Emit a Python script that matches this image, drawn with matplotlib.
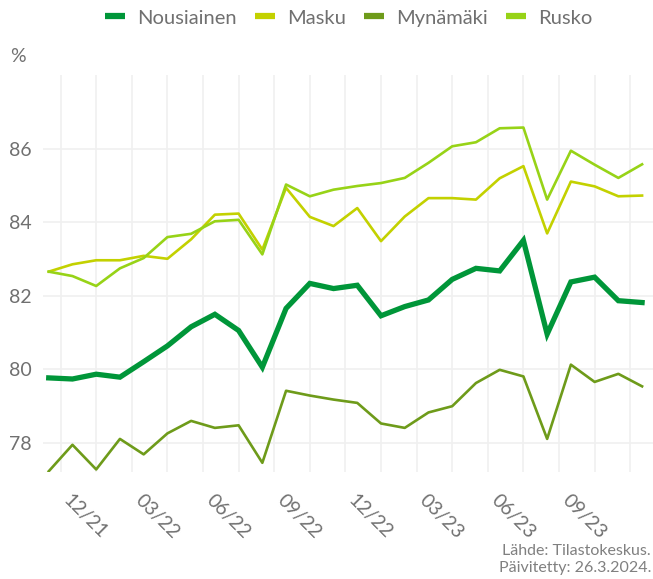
import numpy as np
import matplotlib
matplotlib.use("Agg")
import matplotlib.pyplot as plt

months = ["11/21", "12/21", "01/22", "02/22", "03/22", "04/22", "05/22", "06/22",
          "07/22", "08/22", "09/22", "10/22", "11/22", "12/22", "01/23", "02/23",
          "03/23", "04/23", "05/23", "06/23", "07/23", "08/23", "09/23", "10/23",
          "11/23", "12/23"]

nousiainen = [79.76, 79.73, 79.86, 79.78, 80.2, 80.63, 81.15, 81.49, 81.05, 80.05,
              81.65, 82.33, 82.19, 82.28, 81.45, 81.7, 81.88, 82.44, 82.74, 82.67,
              83.5, 80.95, 82.37, 82.5, 81.86, 81.81]
masku = [82.65, 82.85, 82.96, 82.96, 83.08, 83.0, 83.53, 84.2, 84.23, 83.25,
         84.93, 84.14, 83.89, 84.38, 83.48, 84.15, 84.65, 84.65, 84.61, 85.19,
         85.52, 83.69, 85.1, 84.97, 84.7, 84.72]
mynamaki = [77.22, 77.94, 77.27, 78.1, 77.68, 78.25, 78.59, 78.4, 78.47, 77.45,
            79.41, 79.28, 79.17, 79.08, 78.52, 78.4, 78.82, 78.99, 79.62, 79.98,
            79.8, 78.1, 80.12, 79.65, 79.87, 79.53]
rusko = [82.65, 82.53, 82.26, 82.74, 83.02, 83.59, 83.68, 84.02, 84.06, 83.12,
         85.02, 84.7, 84.88, 84.98, 85.06, 85.2, 85.61, 86.06, 86.17, 86.55,
         86.57, 84.61, 85.94, 85.56, 85.2, 85.57]

tick_labels = ["12/21", "03/22", "06/22", "09/22", "12/22", "03/23", "06/23", "09/23"]

plt.rcParams["font.family"] = ["Lato", "DejaVu Sans"]
grey = "#707070"

fig = plt.figure(figsize=(6.53, 5.79), dpi=100)
ax = fig.add_axes([0.0659, 0.1848, 0.9341, 0.6857])

x = np.arange(len(months))
ax.plot(x, masku, color="#c3d100", lw=1.9, label="Masku", zorder=3)
ax.plot(x, rusko, color="#97d317", lw=1.9, label="Rusko", zorder=3)
ax.plot(x, mynamaki, color="#6e9b1a", lw=1.9, label="Mynämäki", zorder=3)
ax.plot(x, nousiainen, color="#009639", lw=3.8, label="Nousiainen", zorder=4,
        solid_joinstyle="miter")

ax.set_xlim(-0.24, 25.46)
ax.set_ylim(77.2, 88)

# vertical grid lines fall between the monthly points
for gx in np.arange(0.5, 25, 1.5):
    ax.axvline(gx, color="#f0f0f0", lw=1.2, zorder=1)
for gy in [78, 80, 82, 84, 86]:
    ax.axhline(gy, color="#f0f0f0", lw=1.2, zorder=1)

ax.set_yticks([78, 80, 82, 84, 86])
ax.set_yticklabels(["78", "80", "82", "84", "86"], fontsize=14, color=grey)
tick_pos = [months.index(t) for t in tick_labels]
ax.set_xticks(tick_pos)
ax.set_xticklabels(tick_labels, rotation=-45, ha="left", va="top",
                   rotation_mode="anchor", fontsize=14, color=grey)
ax.tick_params(axis="both", length=0)
ax.tick_params(axis="y", pad=8)
ax.tick_params(axis="x", pad=14)
for s in ax.spines.values():
    s.set_visible(False)

fig.text(10 / 653, 1 - 57 / 579, "%", fontsize=14, color=grey, va="center")

handles, labels = ax.get_legend_handles_labels()
order = [3, 0, 2, 1]
leg = fig.legend([handles[i] for i in order], [labels[i] for i in order],
                 loc="center", bbox_to_anchor=(0.534, 1 - 18 / 579), ncol=4,
                 frameon=False, fontsize=14.5, handlelength=1.0,
                 handletextpad=0.6, columnspacing=0.9)
for t in leg.get_texts():
    t.set_color(grey)
for h in leg.legend_handles:
    h.set_linewidth(4.5)
    h.set_solid_capstyle("butt")

fig.text(1 - 2 / 653, 1 - 551 / 579, "Lähde: Tilastokeskus.", fontsize=11.5,
         color="#808080", ha="right", va="center")
fig.text(1 - 2 / 653, 1 - 568 / 579, "Päivitetty: 26.3.2024.", fontsize=11.5,
         color="#808080", ha="right", va="center")

fig.savefig("out.png", dpi=100)
